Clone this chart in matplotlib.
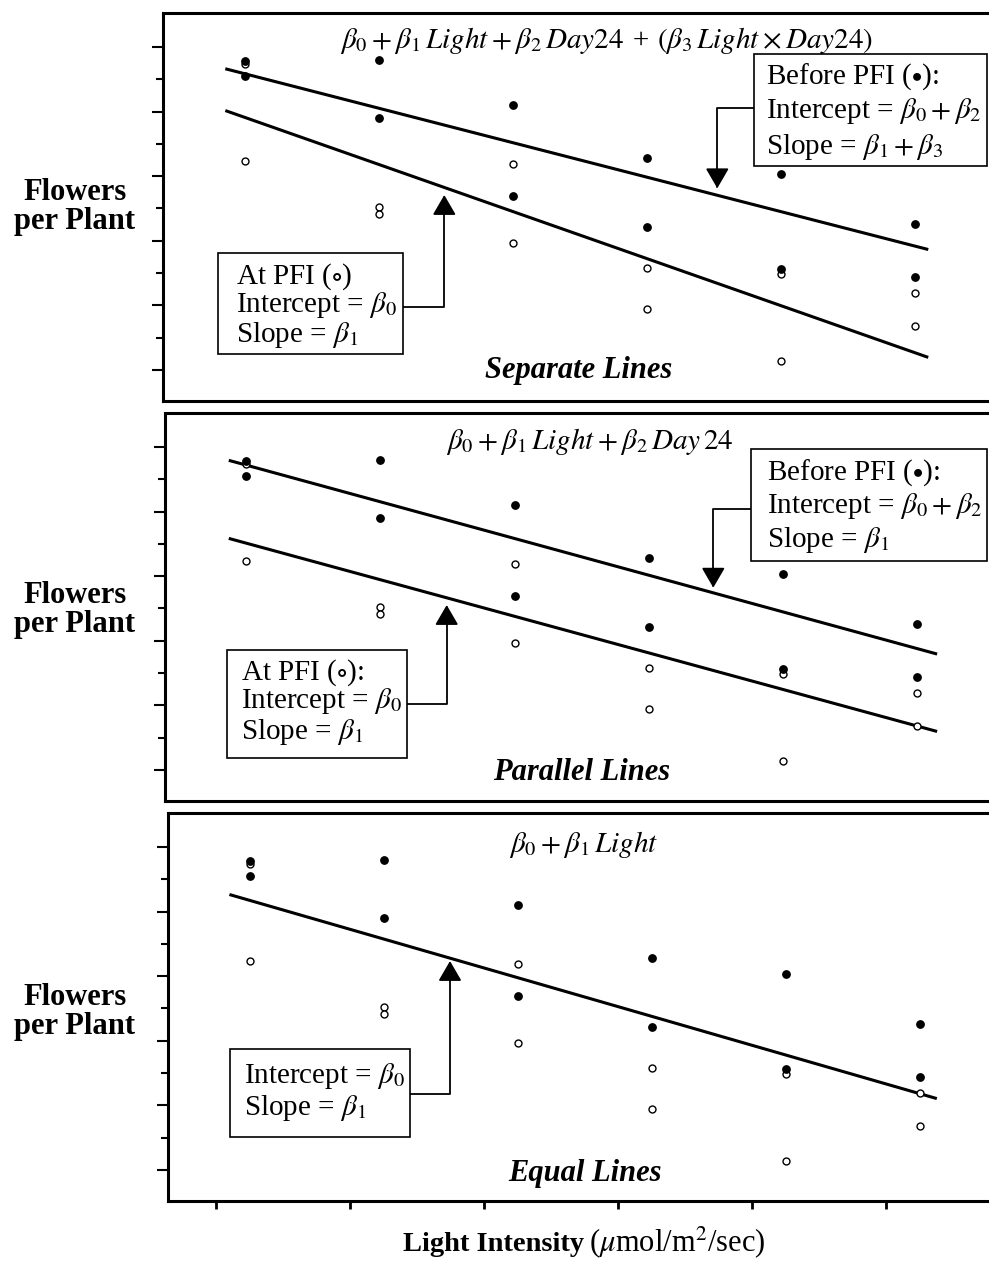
import matplotlib
matplotlib.use("Agg")
import matplotlib.pyplot as plt
from matplotlib.patches import Rectangle

plt.rcParams["font.family"] = ["Liberation Serif", "DejaVu Serif"]
plt.rcParams["mathtext.fontset"] = "stix"

W, H = 989, 1262

# meadowfoam flowers per plant, two plants per light level and timing
light = [150, 300, 450, 600, 750, 900]
before_pfi_a = [77.8, 69.1, 57.0, 62.9, 60.3, 52.6]
before_pfi_b = [75.6, 78.0, 71.1, 52.2, 45.6, 44.4]
at_pfi_a = [62.3, 55.3, 49.6, 39.4, 31.3, 36.8]
at_pfi_b = [77.4, 54.2, 61.9, 45.7, 44.9, 41.9]

# fitted lines as drawn (start/end of each line)
sep_x = [130, 913]
sep_before_y = [76.6, 48.7]
sep_at_y = [70.1, 32.0]
par_x = [132, 921]
par_before_y = [77.9, 48.0]
par_at_y = [65.8, 36.0]
eq_x = [129, 917]
eq_y = [72.6, 41.1]

x_ticks = [112, 262, 412, 562, 712, 862]
y_major = [30, 40, 50, 60, 70, 80]
y_minor = [35, 45, 55, 65, 75]

titles = [
    r"$\beta_0 + \beta_1\,\mathit{Light} + \beta_2\,\mathit{Day24}$ + $(\beta_3\,\mathit{Light} \times \mathit{Day24})$",
    r"$\beta_0 + \beta_1\,\mathit{Light} + \beta_2\,\mathit{Day\,24}$",
    r"$\beta_0 + \beta_1\,\mathit{Light}$",
]
names = ["Separate Lines", "Parallel Lines", "Equal Lines"]


def fx(x):
    return x / W


def fy(y):
    return 1 - y / H


fig = plt.figure(figsize=(W / 100, H / 100), dpi=100)
fig.patch.set_facecolor("white")

panel_left = [163.3, 165.0, 168.3]
panel_top = [13.0, 413.0, 813.0]
panel_h = 388.4
panel_w = 836.8

axes = []
for i in range(3):
    ax = fig.add_axes([fx(panel_left[i]), fy(panel_top[i] + panel_h),
                       panel_w / W, panel_h / H])
    ax.set_xlim(59, 995)
    ax.set_ylim(25.1, 85.3)
    for s in ["top", "bottom", "left"]:
        ax.spines[s].set_linewidth(2.2)
    ax.spines["right"].set_visible(False)
    ax.set_yticks(y_major)
    ax.set_yticks(y_minor, minor=True)
    ax.tick_params(axis="y", which="major", direction="out", length=8, width=1.5, labelleft=False)
    ax.tick_params(axis="y", which="minor", direction="out", length=5, width=1.5)
    if i == 2:
        ax.set_xticks(x_ticks)
        ax.tick_params(axis="x", direction="out", length=6, width=2, labelbottom=False)
    else:
        ax.set_xticks([])

    for vals in [at_pfi_a, at_pfi_b]:
        ax.plot(light, vals, "o", ms=5, mfc="white", mec="black", mew=1.0, zorder=3)
    for vals in [before_pfi_a, before_pfi_b]:
        ax.plot(light, vals, "o", ms=5.3, mfc="black", mec="black", zorder=4)
    axes.append(ax)

axes[0].plot(sep_x, sep_before_y, color="black", lw=2.2)
axes[0].plot(sep_x, sep_at_y, color="black", lw=2.2)
axes[1].plot(par_x, par_before_y, color="black", lw=2.2)
axes[1].plot(par_x, par_at_y, color="black", lw=2.2)
axes[2].plot(eq_x, eq_y, color="black", lw=2.2)

# formula titles and panel names
title_pos = [(606, 40), (590, 441), (584, 844)]
name_pos = [(579, 378), (582, 780), (585, 1181)]
for i in range(3):
    fig.text(fx(title_pos[i][0]), fy(title_pos[i][1]), titles[i], ha="center", va="center",
             fontsize=21, style="italic")
    fig.text(fx(name_pos[i][0]), fy(name_pos[i][1]), names[i], ha="center", va="baseline",
             fontsize=22, weight="bold", style="italic")

# y-axis labels
for yc in [207, 610, 1012]:
    fig.text(fx(75), fy(yc), "Flowers\nper Plant", ha="center", va="center",
             fontsize=22, weight="bold", linespacing=1.0)

# x-axis label
fig.text(fx(584), fy(1251), "Light Intensity", ha="right", va="baseline",
         fontsize=20.5, weight="bold")
fig.text(fx(589), fy(1251), r"($\mu$mol/m$^2$/sec)", ha="left", va="baseline", fontsize=22)

# annotation boxes: (left, top, right, bottom), text left, baselines, lines
boxes = [
    ((754.3, 54.3, 987.3, 165.7), 766, [83.3, 118.3, 153.8],
     [r"Before PFI ($\bullet$):", r"Intercept = $\beta_0 + \beta_2$", r"Slope = $\beta_1 + \beta_3$"]),
    ((217.7, 253.3, 403.3, 354.3), 236, [283.3, 312.3, 341.7],
     [r"At PFI ($\circ$)", r"Intercept = $\beta_0$", r"Slope = $\beta_1$"]),
    ((750.7, 449.3, 987.3, 560.7), 767, [480, 513.3, 546.7],
     [r"Before PFI ($\bullet$):", r"Intercept = $\beta_0 + \beta_2$", r"Slope = $\beta_1$"]),
    ((227.3, 650, 406.7, 757.7), 240.7, [680, 708.3, 739.3],
     [r"At PFI ($\circ$):", r"Intercept = $\beta_0$", r"Slope = $\beta_1$"]),
    ((230, 1049.3, 410, 1137.3), 244, [1083.3, 1115],
     [r"Intercept = $\beta_0$", r"Slope = $\beta_1$"]),
]
for (l, t, r, b), tx, bases, lines in boxes:
    fig.add_artist(Rectangle((fx(l), fy(b)), (r - l) / W, (b - t) / H,
                             transform=fig.transFigure, facecolor="white",
                             edgecolor="black", lw=1.2, zorder=5))
    for yb, s in zip(bases, lines):
        fig.text(fx(tx), fy(yb), s, ha="left", va="baseline", fontsize=21, zorder=6)

# elbow arrows: panel index, start at box edge, end at tip
arrows = [
    (0, (754.3, 108.3), (717.3, 188.3)),
    (0, (403.3, 306.7), (444.3, 195.0)),
    (1, (750.7, 509.3), (713.3, 587.7)),
    (1, (406.7, 704.3), (446.7, 605.0)),
    (2, (410.0, 1094.0), (450.0, 961.0)),
]
for k, (sx, sy), (tx, ty) in arrows:
    ann = axes[k].annotate("", xy=(fx(tx), fy(ty)), xycoords="figure fraction",
                           xytext=(fx(sx), fy(sy)), textcoords="figure fraction",
                           arrowprops=dict(arrowstyle="-|>,head_length=0.62,head_width=0.36",
                                           connectionstyle="angle,angleA=0,angleB=90,rad=0",
                                           color="black", lw=1.3, shrinkA=0, shrinkB=0,
                                           mutation_scale=20),
                           annotation_clip=False, zorder=6)
    ann.arrow_patch.set_clip_on(False)

fig.savefig("out.png", dpi=100)
